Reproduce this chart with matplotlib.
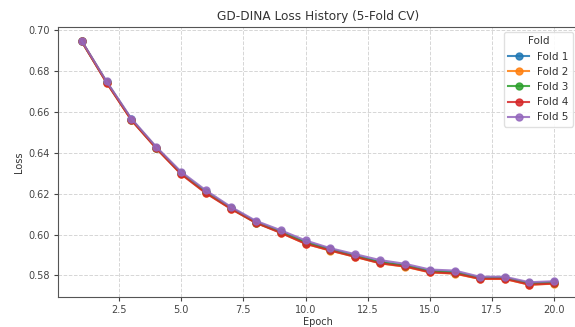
import matplotlib
matplotlib.use("Agg")
import matplotlib.pyplot as plt

epochs = list(range(1, 21))
fold1 = [0.6944, 0.6745, 0.6562, 0.6424, 0.6300, 0.6208, 0.6130, 0.6062, 0.6014, 0.5963,
         0.5928, 0.5897, 0.5866, 0.5849, 0.5822, 0.5816, 0.5789, 0.5789, 0.5761, 0.5766]
fold2 = [0.6943, 0.6742, 0.6559, 0.6421, 0.6296, 0.6203, 0.6126, 0.6058, 0.6009, 0.5955,
         0.5921, 0.5891, 0.5859, 0.5843, 0.5815, 0.5809, 0.5783, 0.5783, 0.5755, 0.5760]
fold3 = [0.6944, 0.6744, 0.6561, 0.6423, 0.6298, 0.6206, 0.6128, 0.6058, 0.6012, 0.5961,
         0.5926, 0.5893, 0.5864, 0.5848, 0.5820, 0.5814, 0.5788, 0.5788, 0.5761, 0.5765]
fold4 = [0.6943, 0.6741, 0.6558, 0.6420, 0.6294, 0.6201, 0.6125, 0.6057, 0.6008, 0.5955,
         0.5922, 0.5891, 0.5860, 0.5844, 0.5816, 0.5810, 0.5784, 0.5784, 0.5755, 0.5761]
fold5 = [0.6946, 0.6748, 0.6566, 0.6428, 0.6306, 0.6215, 0.6135, 0.6067, 0.6021, 0.5971,
         0.5933, 0.5904, 0.5875, 0.5857, 0.5829, 0.5824, 0.5794, 0.5794, 0.5767, 0.5772]
folds = [fold1, fold2, fold3, fold4, fold5]
labels = ["Fold 1", "Fold 2", "Fold 3", "Fold 4", "Fold 5"]
colors = ["#1f77b4", "#ff7f0e", "#2ca02c", "#d62728", "#9467bd"]

fig = plt.figure(figsize=(5.75, 3.27), dpi=100)
ax = fig.add_axes([58/575, 1-297/327, (578-58)/575, 270/327])

for vals, lab, c in zip(folds, labels, colors):
    ax.plot(epochs, vals, marker="o", markersize=5, linewidth=1.5, color=c, label=lab, alpha=0.85)

ax.set_xlim(0.05, 20.95)
ax.set_ylim(0.5695, 0.7013)
ax.set_xticks([2.5, 5.0, 7.5, 10.0, 12.5, 15.0, 17.5, 20.0])
ax.set_yticks([0.58, 0.60, 0.62, 0.64, 0.66, 0.68, 0.70])
ax.tick_params(labelsize=7, colors="#444444", length=3, pad=3)
for sp in ax.spines.values():
    sp.set_color("#555555")
ax.grid(True, linestyle="--", color="#cccccc", linewidth=0.7, alpha=0.8)
ax.set_title("GD-DINA Loss History (5-Fold CV)", fontsize=8.7, color="#333333", pad=5)
ax.set_xlabel("Epoch", fontsize=7, color="#333333", labelpad=1)
ax.set_ylabel("Loss", fontsize=7, color="#333333", labelpad=3)
leg = ax.legend(title="Fold", fontsize=7.5, title_fontsize=7.5, loc="upper right",
                framealpha=0.9, edgecolor="#dddddd")
for t in leg.get_texts():
    t.set_color("#333333")
leg.get_title().set_color("#333333")

fig.savefig("out.png", dpi=100)
